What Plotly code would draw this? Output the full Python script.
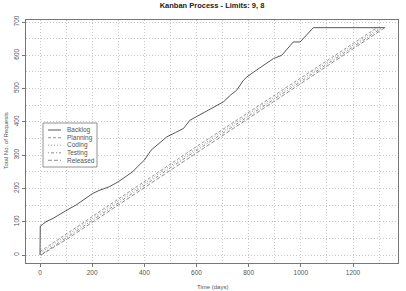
import plotly.graph_objects as go

# ---- data ----
backlog_x = [0, 1, 10, 23, 50, 80, 110, 138, 170, 202, 230, 265, 300, 330, 355, 380, 400, 426,
             450, 486, 520, 550, 575, 610, 639, 670, 703, 730, 754, 780, 793, 820, 856, 895,
             927, 950, 971, 997, 1015, 1029, 1048, 1322]
backlog_y = [0, 87, 92, 100, 110, 125, 138, 150, 168, 185, 195, 205, 220, 235, 250, 270, 285, 315,
             330, 355, 368, 380, 405, 420, 435, 448, 460, 480, 495, 525, 535, 550, 570, 590,
             600, 620, 640, 640, 655, 665, 683, 683]

planning_x = [0, 100, 200, 300, 400, 500, 600, 700, 800, 900, 1000, 1100, 1200, 1292]
planning_y = [10, 63, 116, 168, 221, 274, 326, 377, 429, 481, 532, 584, 636, 683]

coding_x = [0, 100, 200, 300, 400, 500, 600, 700, 800, 900, 1000, 1100, 1200, 1302]
coding_y = [5, 57, 110, 162, 215, 268, 320, 372, 424, 475, 527, 579, 630, 683]

testing_x = [2, 100, 200, 300, 400, 500, 600, 700, 800, 900, 1000, 1100, 1200, 1312]
testing_y = [0, 51, 104, 156, 209, 262, 314, 366, 418, 470, 521, 573, 625, 683]

released_x = [4, 100, 200, 300, 400, 500, 600, 700, 800, 900, 1000, 1100, 1200, 1322]
released_y = [0, 46, 98, 150, 203, 256, 308, 360, 412, 464, 515, 567, 619, 683]

series_names = ["Backlog", "Planning", "Coding", "Testing", "Released"]
series_dash = ["solid", "3px,2px", "1px,2px", "1px,2px,3px,2px", "4px,2px"]
series_color = ["#444444", "#6a6a6a", "#6a6a6a", "#5a5a5a", "#5a5a5a"]
series_width = [0.9, 0.7, 0.7, 0.7, 0.7]

x_ticks = [0, 200, 400, 600, 800, 1000, 1200]
y_ticks = [0, 100, 200, 300, 400, 500, 600, 700]

FONT = "Liberation Sans, Arial, sans-serif"

fig = go.Figure()
data = [(backlog_x, backlog_y), (planning_x, planning_y), (coding_x, coding_y),
        (testing_x, testing_y), (released_x, released_y)]
for (xs, ys), name, dash, col, w in zip(data, series_names, series_dash, series_color, series_width):
    fig.add_trace(go.Scatter(x=xs, y=ys, mode="lines", name=name,
                             line=dict(color=col, width=w, dash=dash),
                             showlegend=False))

grid = dict(showgrid=True, gridcolor="#c8c8c8", griddash="1px,2px", gridwidth=1)

fig.update_xaxes(range=[-53.7, 1372.5], tickvals=x_ticks, ticks="outside", ticklen=3,
                 tickcolor="#777", tickfont=dict(size=6.5, color="#555", family=FONT),
                 showline=True, linecolor="#777", mirror=True, zeroline=False,
                 minor=dict(dtick=100, tick0=0, ticks="", **grid), **grid)
fig.update_yaxes(range=[-24, 706], tickvals=y_ticks, ticks="outside", ticklen=3,
                 tickcolor="#777", tickangle=-90,
                 tickfont=dict(size=6.5, color="#555", family=FONT),
                 showline=True, linecolor="#777", mirror=True, zeroline=False,
                 minor=dict(dtick=50, tick0=0, ticks="", **grid), **grid)

# ---- manual legend (R style box) ----
W, H = 406, 291
L, R, T, B = 26, 8, 20, 28
pw, ph = W - L - R, H - T - B
def px(xp): return (xp - L) / pw
def py(yp): return (H - B - yp) / ph

shapes = [dict(type="rect", xref="paper", yref="paper", x0=px(43), x1=px(97),
               y0=py(167), y1=py(123), line=dict(color="#777", width=0.8),
               fillcolor="white", layer="above")]
annotations = []
row_y = [130, 137.7, 145.2, 152.8, 160.3]
for name, dash, col, w, ry in zip(series_names, series_dash, series_color, series_width, row_y):
    shapes.append(dict(type="line", xref="paper", yref="paper", x0=px(48), x1=px(61),
                       y0=py(ry), y1=py(ry), line=dict(color=col, width=w, dash=dash),
                       layer="above"))
    annotations.append(dict(text=name, xref="paper", yref="paper", x=px(65), y=py(ry),
                            xanchor="left", yanchor="middle", showarrow=False,
                            font=dict(size=6.5, color="#555", family=FONT)))

annotations.append(dict(text="Time (days)", xref="paper", yref="paper", x=0.5, y=py(287),
                        xanchor="center", yanchor="middle", showarrow=False,
                        font=dict(size=6, color="#555", family=FONT)))
annotations.append(dict(text="Total No. of Requests", xref="paper", yref="paper",
                        x=px(5), y=0.5, xanchor="center", yanchor="middle", textangle=-90,
                        showarrow=False, font=dict(size=6, color="#555", family=FONT)))

fig.update_layout(
    width=W, height=H,
    margin=dict(l=L, r=R, t=T, b=B, pad=0),
    paper_bgcolor="white", plot_bgcolor="white",
    title=dict(text="<b>Kanban Process - Limits: 9, 8</b>", x=0.5, xref="paper",
               y=1 - 5.5 / H, yref="container", yanchor="middle", xanchor="center",
               font=dict(size=7.5, color="#222", family=FONT)),
    shapes=shapes, annotations=annotations, showlegend=False,
)

fig.write_html("out.html")
